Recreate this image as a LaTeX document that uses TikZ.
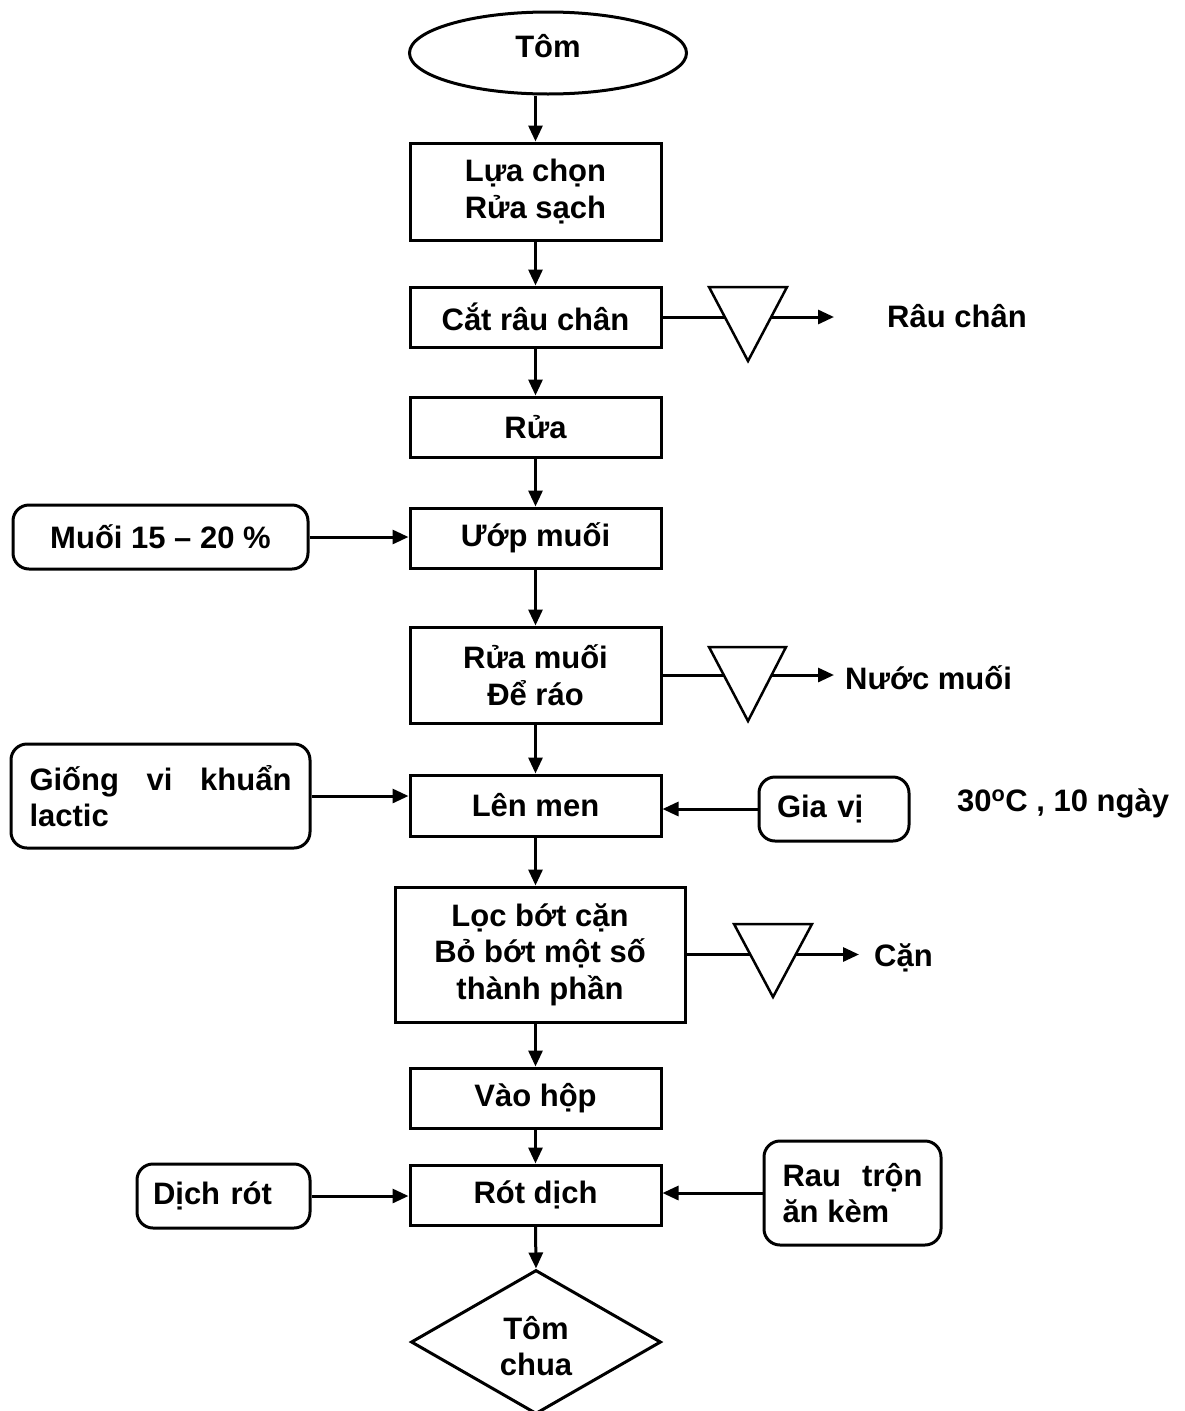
\documentclass[tikz,border=0pt]{standalone}
\usepackage{fontspec}
\setmainfont{Liberation Sans}
\usetikzlibrary{shapes.geometric,arrows.meta}
\hyphenpenalty=10000
\exhyphenpenalty=10000
\begin{document}
\begin{tikzpicture}[x=1pt,y=-1pt,
  every node/.style={font=\fontsize{31}{36.5}\selectfont\bfseries},
  box/.style={draw,line width=3pt,minimum width=251pt,inner sep=0pt,align=center},
  rbox/.style={draw,line width=3pt,rounded corners=16pt,inner sep=0pt},
  arr/.style={line width=3pt,-{Triangle[length=16pt,width=14pt]}},
  tri/.style={draw,line width=2.5pt,fill=white,line join=miter}]
\fill[white] (0,0) rectangle (1184,1411);
\useasboundingbox (0,0) rectangle (1184,1411);

% main column
\node[ellipse,draw,line width=3pt,minimum width=277pt,minimum height=82pt,inner sep=0pt] (tom) at (548,53) {};
\node[anchor=base,inner sep=0pt] (tomtxt) at (548,57) {Tôm};
\node[box,minimum height=97pt] (b1) at (535.5,191.5) {Lựa chọn\\Rửa sạch};
\node[box,minimum height=60pt] (b2) at (535.5,317) {Cắt râu chân};
\node[box,minimum height=60pt] (b3) at (535.5,427) {Rửa};
\node[box,minimum height=60pt] (b4) at (535.5,538) {Ướp muối};
\node[box,minimum height=96pt] (b5) at (535.5,675) {Rửa muối\\Để ráo};
\node[box,minimum height=61pt] (b6) at (535.5,805.5) {Lên men};
\node[box,minimum width=290pt,minimum height=135pt] (b7) at (540,954.5) {Lọc bớt cặn\\Bỏ bớt một số\\thành phần};
\node[box,minimum height=60pt] (b8) at (535.5,1098) {Vào hộp};
\node[box,minimum height=60pt] (b9) at (535.5,1195) {Rót dịch};
\node[diamond,draw,line width=3pt,minimum width=250pt,minimum height=144pt,inner sep=0pt] (end) at (536,1342) {};
\node[align=center,inner sep=0pt] (endtxt) at (536,1346) {Tôm\\chua};

% side inputs
\node[rbox,minimum width=295pt,minimum height=64pt] (muoi) at (160.5,537) {Muối 15 – 20 \%};
\node[rbox,minimum height=104pt,text width=262pt,align=justify,inner xsep=18.5pt] (giong) at (160.5,796) {Giống vi khuẩn lactic};
\node[rbox,minimum height=64pt,text width=114pt,align=left,inner xsep=18pt] (giavi) at (834,809) {Gia vị};
\node[rbox,minimum height=64pt,text width=141pt,align=left,inner xsep=16pt] (dichrot) at (223.5,1196) {Dịch rót};
\node[rbox,minimum height=104pt,text width=140pt,align=justify,inner xsep=18.5pt] (rau) at (852.5,1193) {Rau trộn ăn kèm};

% outputs
\coordinate (e1) at (834,317);
\coordinate (e2) at (834,675);
\coordinate (e3) at (859,954.5);
\node[anchor=base west,inner sep=0pt] (l1) at (887,327) {Râu chân};
\node[anchor=base west,inner sep=0pt] (l2) at (845,689) {Nước muối};
\node[anchor=base west,inner sep=0pt] (l3) at (874,966) {Cặn};
\node[anchor=base west,inner sep=0pt] (l4) at (957,811) {30\textsuperscript{o}C , 10 ngày};

% vertical flow
\draw[arr] (tom.south -| b1.north) -- (b1.north);
\draw[arr] (b1.south) -- (b2.north);
\draw[arr] (b2.south) -- (b3.north);
\draw[arr] (b3.south) -- (b4.north);
\draw[arr] (b4.south) -- (b5.north);
\draw[arr] (b5.south) -- (b6.north);
\draw[arr] (b6.south) -- (b6.south |- b7.north);
\draw[arr] (b6.south |- b7.south) -- (b8.north);
\draw[arr] (b8.south) -- (b9.north);
\draw[arr] (b9.south) -- (end.north);

% side arrows
\draw[arr] (muoi.east) -- (muoi.east -| b4.west);
\draw[arr] (giong.east) -- (giong.east -| b6.west);
\draw[arr] (giavi.west) -- (giavi.west -| b6.east);
\draw[arr] (dichrot.east) -- (dichrot.east -| b9.west);
\draw[arr] (rau.west) -- (rau.west -| b9.east);

% waste lines with triangles
\draw[arr] (b2.east) -- (e1);
\draw[tri] (709,287) -- (787,287) -- (748,361) -- cycle;
\draw[arr] (b5.east) -- (e2);
\draw[tri] (709,647) -- (786,647) -- (748,721) -- cycle;
\draw[arr] (b7.east) -- (e3);
\draw[tri] (734,924) -- (812,924) -- (773,997) -- cycle;
\end{tikzpicture}
\end{document}
